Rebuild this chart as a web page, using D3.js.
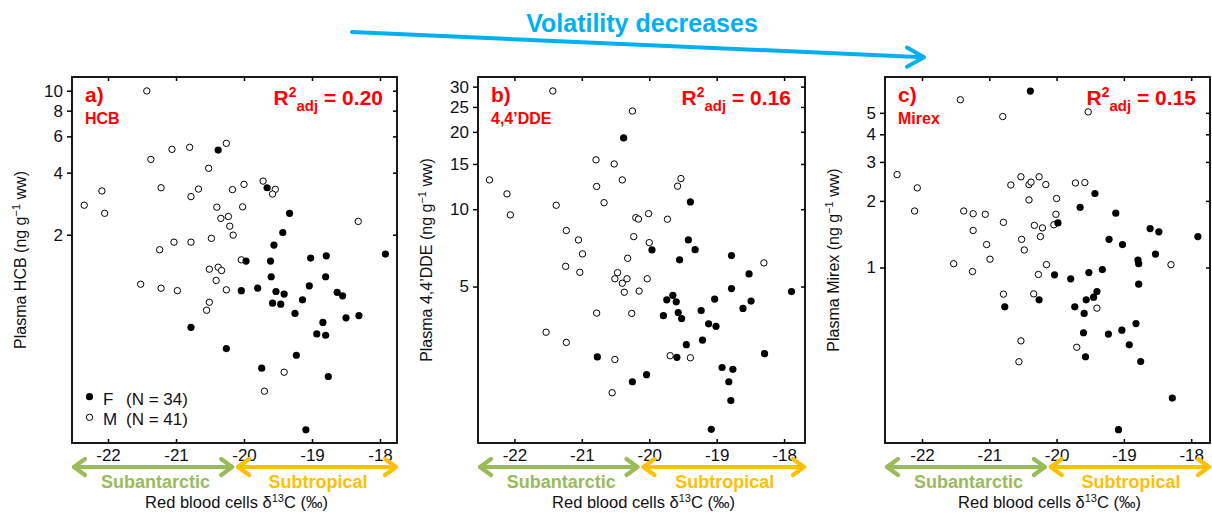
<!DOCTYPE html>
<html><head><meta charset="utf-8">
<script src="https://cdn.jsdelivr.net/npm/d3@7"></script>
<style>
body{margin:0;background:#fff}
svg{display:block}
text{font-family:"Liberation Sans",Arial,Helvetica,sans-serif}
</style>
</head><body>
<svg id="chart" width="1212" height="513"></svg>
<script>
// ---------- data ----------
const xTicks = [-22, -21, -20, -19, -18];
const hcbTicks = [2, 4, 6, 8, 10];
const ddeTicks = [5, 10, 15, 20, 25, 30];
const mirexTicks = [1, 2, 3, 4, 5];

const hcbFemale = [[-20.38,5.15],[-19.66,3.38],[-19.33,2.54],[-19.43,2.05],[-19.56,1.78],[-19.97,1.49],[-19.61,1.49],[-19.02,1.54],[-18.79,1.58],[-17.92,1.61],[-19.60,1.25],[-18.80,1.25],[-20.04,1.07],[-19.80,1.10],[-19.53,1.06],[-19.41,1.03],[-19.04,1.13],[-19.14,0.966],[-18.63,1.05],[-18.55,1.01],[-19.58,0.93],[-19.46,0.92],[-19.25,0.83],[-18.84,0.75],[-18.50,0.79],[-18.31,0.81],[-20.78,0.71],[-18.93,0.66],[-18.80,0.65],[-20.26,0.56],[-19.23,0.52],[-19.74,0.45],[-18.76,0.41],[-19.09,0.226]];
const hcbMale = [[-21.43,9.97],[-21.37,4.64],[-21.06,5.19],[-20.80,5.31],[-20.26,5.55],[-20.52,4.20],[-22.09,3.26],[-22.35,2.78],[-22.05,2.54],[-21.22,3.38],[-20.78,3.06],[-20.67,3.33],[-20.17,3.31],[-20.00,3.51],[-19.72,3.64],[-19.54,3.32],[-19.58,3.15],[-20.40,2.72],[-20.02,2.73],[-20.34,2.40],[-20.23,2.45],[-20.21,2.20],[-20.16,1.99],[-20.48,1.92],[-20.78,1.84],[-21.03,1.84],[-21.24,1.69],[-18.32,2.32],[-20.04,1.51],[-20.51,1.36],[-20.38,1.39],[-20.33,1.34],[-20.41,1.20],[-21.52,1.15],[-21.22,1.10],[-20.98,1.07],[-20.26,1.08],[-20.51,0.94],[-20.55,0.86],[-19.41,0.43],[-19.70,0.348]];

const ddeFemale = [[-20.38,18.94],[-19.39,10.67],[-19.42,7.59],[-19.32,6.96],[-19.96,6.94],[-18.78,6.60],[-19.55,6.35],[-18.52,5.60],[-18.78,4.91],[-17.89,4.78],[-19.65,4.62],[-19.74,4.44],[-19.60,4.36],[-19.03,4.47],[-18.49,4.39],[-18.61,4.11],[-19.23,4.03],[-19.57,3.96],[-19.79,3.85],[-19.52,3.75],[-19.12,3.58],[-19.01,3.50],[-19.21,3.09],[-19.45,2.97],[-18.29,2.74],[-20.77,2.66],[-19.59,2.65],[-18.92,2.42],[-18.82,2.13],[-18.76,2.38],[-20.25,2.13],[-20.04,2.27],[-18.79,1.80],[-19.08,1.39]];
const ddeMale = [[-21.43,28.85],[-20.25,24.1],[-20.79,15.56],[-20.52,15.0],[-20.40,13.0],[-22.37,13.0],[-19.53,13.16],[-19.58,12.29],[-20.78,12.26],[-22.11,11.47],[-20.67,10.6],[-21.38,10.36],[-22.06,9.50],[-20.20,9.27],[-20.16,9.15],[-20.01,9.61],[-19.73,9.14],[-21.23,8.26],[-21.05,7.59],[-20.23,7.82],[-20.00,7.41],[-20.99,6.70],[-20.32,6.44],[-21.24,5.99],[-21.03,5.68],[-20.47,5.66],[-20.51,5.36],[-20.33,5.36],[-20.40,5.15],[-20.03,5.36],[-20.37,4.75],[-20.15,4.80],[-18.30,6.18],[-20.78,3.94],[-20.26,3.93],[-21.53,3.32],[-21.23,3.03],[-19.69,2.69],[-20.51,2.60],[-19.39,2.64],[-20.55,1.93]];

const mirexFemale = [[-20.39,6.27],[-19.43,2.16],[-19.65,1.87],[-19.12,1.76],[-19.98,1.59],[-18.61,1.50],[-18.48,1.45],[-17.90,1.38],[-19.22,1.34],[-19.02,1.27],[-18.53,1.15],[-18.79,1.08],[-18.78,1.04],[-20.03,0.927],[-19.79,0.889],[-19.52,0.949],[-19.32,0.979],[-18.78,0.841],[-19.40,0.779],[-19.45,0.734],[-19.56,0.714],[-20.26,0.714],[-20.77,0.664],[-19.73,0.664],[-19.59,0.620],[-18.82,0.558],[-19.60,0.507],[-19.23,0.500],[-19.03,0.521],[-18.92,0.447],[-19.57,0.395],[-18.75,0.376],[-18.28,0.257],[-19.08,0.185]];
const mirexMale = [[-21.43,5.73],[-20.80,4.81],[-19.53,5.05],[-22.37,2.63],[-22.07,2.29],[-22.11,1.80],[-21.38,1.80],[-21.24,1.75],[-21.06,1.74],[-21.24,1.47],[-21.04,1.27],[-20.99,1.09],[-21.53,1.04],[-21.25,0.959],[-20.79,1.60],[-20.68,2.36],[-20.53,2.57],[-20.41,2.37],[-20.38,2.43],[-20.26,2.57],[-20.16,2.37],[-20.41,2.02],[-20.00,2.05],[-19.72,2.41],[-19.58,2.42],[-20.01,1.74],[-20.33,1.55],[-20.21,1.51],[-20.04,1.56],[-20.52,1.34],[-20.24,1.38],[-20.48,1.20],[-20.15,1.03],[-20.27,0.93],[-18.30,1.03],[-20.79,0.758],[-20.34,0.760],[-19.40,0.655],[-20.53,0.466],[-19.70,0.436],[-20.56,0.375]];

const panelLetters = ["a)", "b)", "c)"];
const compounds = ["HCB", "4,4\u2019DDE", "Mirex"];
const r2adj = ["0.20", "0.16", "0.15"];
const legendLabels = [["F", "(N = 34)"], ["M", "(N = 41)"]];
const zoneLabels = ["Subantarctic", "Subtropical"];
const zoneBoundary = -20.13;
const title = "Volatility decreases";

// ---------- layout ----------
const svg = d3.select("#chart");
const RED = "#FF0000", BLUE = "#00B0F0", GREEN = "#9BBB59", YELLOW = "#FFC000";
const yTop = 77, yBottom = 443;

const panels = [
  {left: 72,  right: 397,  xd: [-22.53, -17.75], yd: [0.195, 11.65], ticks: hcbTicks,  F: hcbFemale,   M: hcbMale,   yname: "Plasma HCB"},
  {left: 478, right: 805,  xd: [-22.54, -17.69], yd: [1.23, 32.7],   ticks: ddeTicks,  F: ddeFemale,   M: ddeMale,   yname: "Plasma 4,4\u2019DDE"},
  {left: 885, right: 1210, xd: [-22.55, -17.72], yd: [0.161, 7.26],  ticks: mirexTicks,F: mirexFemale, M: mirexMale, yname: "Plasma Mirex"}
];

panels.forEach((p, i) => {
  const x = d3.scaleLinear().domain(p.xd).range([p.left, p.right]);
  const y = d3.scaleLog().domain(p.yd).range([yBottom, yTop]);
  const g = svg.append("g");

  // axes
  const fmtX = d => String(d);
  g.append("g").attr("transform", `translate(0,${yBottom})`)
    .call(d3.axisBottom(x).tickValues(xTicks).tickSize(-4).tickPadding(6).tickFormat(fmtX));
  g.append("g").attr("transform", `translate(0,${yTop})`)
    .call(d3.axisTop(x).tickValues(xTicks).tickSize(-4).tickFormat(""));
  g.append("g").attr("transform", `translate(${p.left},0)`)
    .call(d3.axisLeft(y).tickValues(p.ticks).tickSize(5).tickPadding(4).tickFormat(d3.format("d")));
  g.append("g").attr("transform", `translate(${p.right},0)`)
    .call(d3.axisRight(y).tickValues(p.ticks).tickSize(-4).tickFormat(""));
  g.selectAll(".domain").remove();
  g.selectAll(".tick line").attr("stroke", "#000").attr("stroke-width", 1.5);
  g.selectAll(".tick text").attr("font-size", 17).attr("fill", "#111")
    .style("font-family", '"Liberation Sans",Arial,sans-serif');

  // box
  g.append("rect").attr("x", p.left).attr("y", yTop)
    .attr("width", p.right - p.left).attr("height", yBottom - yTop)
    .attr("fill", "none").attr("stroke", "#000").attr("stroke-width", 1.8);

  // points: males (open) then females (filled)
  g.selectAll(".m").data(p.M).enter().append("circle")
    .attr("cx", d => x(d[0])).attr("cy", d => y(d[1])).attr("r", 3.2)
    .attr("fill", "#fff").attr("stroke", "#000").attr("stroke-width", 1);
  g.selectAll(".f").data(p.F).enter().append("circle")
    .attr("cx", d => x(d[0])).attr("cy", d => y(d[1])).attr("r", 3.6)
    .attr("fill", "#000");

  // panel labels
  g.append("text").attr("x", p.left + 13).attr("y", 102).attr("fill", RED)
    .attr("font-size", 21).attr("font-weight", "bold").text(panelLetters[i]);
  g.append("text").attr("x", p.left + 13).attr("y", 124).attr("fill", RED)
    .attr("font-size", 16).attr("font-weight", "bold").text(compounds[i]);
  const r2 = g.append("text").attr("x", p.right - 14).attr("y", 105).attr("fill", RED)
    .attr("font-weight", "bold").attr("text-anchor", "end");
  r2.append("tspan").attr("font-size", 21).text("R");
  r2.append("tspan").attr("font-size", 14).attr("dy", -8).text("2");
  r2.append("tspan").attr("font-size", 15).attr("dy", 14).text("adj");
  r2.append("tspan").attr("font-size", 21).attr("dy", -6).text(" = " + r2adj[i]);

  // y-axis title
  const cy = (yTop + yBottom) / 2;
  const yt = g.append("text").attr("transform", `translate(${p.left - 46},${cy}) rotate(-90)`)
    .attr("text-anchor", "middle").attr("font-size", 16).attr("fill", "#111");
  yt.append("tspan").text(p.yname + " (ng g");
  yt.append("tspan").attr("font-size", 11).attr("dy", -6).text("\u22121");
  yt.append("tspan").attr("dy", 6).text(" ww)");

  // region arrows under x axis
  const ya = 467, xb = x(zoneBoundary);
  const drawArrow = (x0, x1, col) => {
    const a = g.append("g").attr("stroke", col).attr("stroke-width", 4.2)
      .attr("fill", "none").attr("stroke-linecap", "round").attr("stroke-linejoin", "round");
    a.append("line").attr("x1", x0 + 2).attr("x2", x1 - 2).attr("y1", ya).attr("y2", ya);
    a.append("polyline").attr("points", `${x0 + 13},${ya - 8} ${x0 + 2},${ya} ${x0 + 13},${ya + 8}`);
    a.append("polyline").attr("points", `${x1 - 13},${ya - 8} ${x1 - 2},${ya} ${x1 - 13},${ya + 8}`);
  };
  drawArrow(p.left, xb - 1, GREEN);
  drawArrow(xb + 1, p.right + 1, YELLOW);
  g.append("text").attr("x", (p.left + xb) / 2 + 2).attr("y", 488).attr("text-anchor", "middle")
    .attr("fill", GREEN).attr("font-size", 18).attr("font-weight", "bold").text(zoneLabels[0]);
  g.append("text").attr("x", (xb + p.right) / 2 + 2).attr("y", 488).attr("text-anchor", "middle")
    .attr("fill", YELLOW).attr("font-size", 18).attr("font-weight", "bold").text(zoneLabels[1]);

  // x-axis title
  const xt = g.append("text").attr("x", (p.left + p.right) / 2 + 2).attr("y", 508)
    .attr("text-anchor", "middle").attr("font-size", 16.5).attr("fill", "#111");
  xt.append("tspan").text("Red blood cells \u03B4");
  xt.append("tspan").attr("font-size", 11).attr("dy", -6).text("13");
  xt.append("tspan").attr("dy", 6).text("C (\u2030)");

  // legend (panel a only)
  if (i === 0) {
    const lg = g.append("g");
    [[396.7, true], [417.3, false]].forEach(([ly, filled], k) => {
      lg.append("circle").attr("cx", 89.5).attr("cy", ly).attr("r", filled ? 3.6 : 3.2)
        .attr("fill", filled ? "#000" : "#fff").attr("stroke", "#000").attr("stroke-width", filled ? 0 : 1);
      lg.append("text").attr("x", 103).attr("y", ly + 8).attr("font-size", 17).attr("fill", "#111")
        .text(legendLabels[k][0]);
      lg.append("text").attr("x", 126).attr("y", ly + 8).attr("font-size", 17).attr("fill", "#111")
        .text(legendLabels[k][1]);
    });
  }
});

// title arrow
const ta = svg.append("g").attr("stroke", BLUE).attr("stroke-width", 4).attr("fill", "none")
  .attr("stroke-linecap", "round").attr("stroke-linejoin", "round");
ta.append("line").attr("x1", 352).attr("y1", 32).attr("x2", 923).attr("y2", 57.2);
ta.append("polyline").attr("points", "907,47.5 924,57.3 907,66.8");
svg.append("text").attr("x", 642).attr("y", 32).attr("text-anchor", "middle")
  .attr("fill", BLUE).attr("font-size", 25).attr("font-weight", "bold").text(title);
</script>
</body></html>
